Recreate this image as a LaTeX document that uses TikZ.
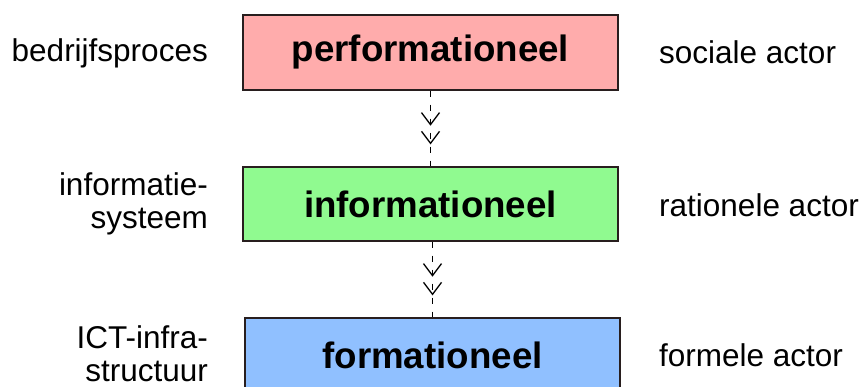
\documentclass[tikz,border=0pt]{standalone}
\usepackage{fontspec}
\setmainfont{Liberation Sans}
\usetikzlibrary{arrows.meta,decorations.markings}
\definecolor{pinkfill}{RGB}{255,172,172}
\definecolor{greenfill}{RGB}{144,250,144}
\definecolor{bluefill}{RGB}{144,192,255}
\definecolor{boxline}{RGB}{40,30,30}
\tikzset{
  layerbox/.style={draw=boxline, line width=1.2pt, minimum width=375pt, minimum height=75pt,
    inner sep=0pt, font=\fontsize{36.7}{40}\selectfont\bfseries},
  sidelabel/.style={inner sep=0pt, font=\fontsize{31.5}{33}\selectfont},
  leftlabel/.style={sidelabel, anchor=east, align=right},
  rightlabel/.style={sidelabel, anchor=west, align=left},
  realize/.style={line width=1pt, dash pattern=on 6pt off 8pt,
    postaction={decorate, decoration={markings, mark=at position 0.71 with {\arrow[solid, line width=1.3pt]{Straight Barb[length=12pt,width=18pt,sep=5pt] Straight Barb[length=12pt,width=18pt]}}}}}
}
\begin{document}
\begin{tikzpicture}[x=1pt,y=-1pt]
\useasboundingbox (0,0) rectangle (861,386);
\clip (0,0) rectangle (861,386);
\node[layerbox, fill=pinkfill] (perf) at (430.5,52.5) {performationeel};
\node[layerbox, fill=greenfill, minimum height=74pt] (info) at (430.5,204) {informationeel};
\node[layerbox, fill=bluefill, minimum height=74pt] (form) at (432.5,355) {formationeel};
\node[leftlabel] (bp) at (208,53) {bedrijfsproces};
\node[leftlabel] (is) at (208,204) {informatie-\\systeem};
\node[leftlabel] (ict) at (208,354) {ICT-infra-\\structuur};
\node[rightlabel] (sa) at (659,52) {sociale actor};
\node[rightlabel] (ra) at (659,205) {rationele actor};
\node[rightlabel] (fa) at (659,355) {formele actor};
\coordinate (b1) at (432.5,241);
\draw[realize] (perf.south) -- (info.north);
\draw[realize] (info.south -| b1) -- (form.north);
\end{tikzpicture}
\end{document}
